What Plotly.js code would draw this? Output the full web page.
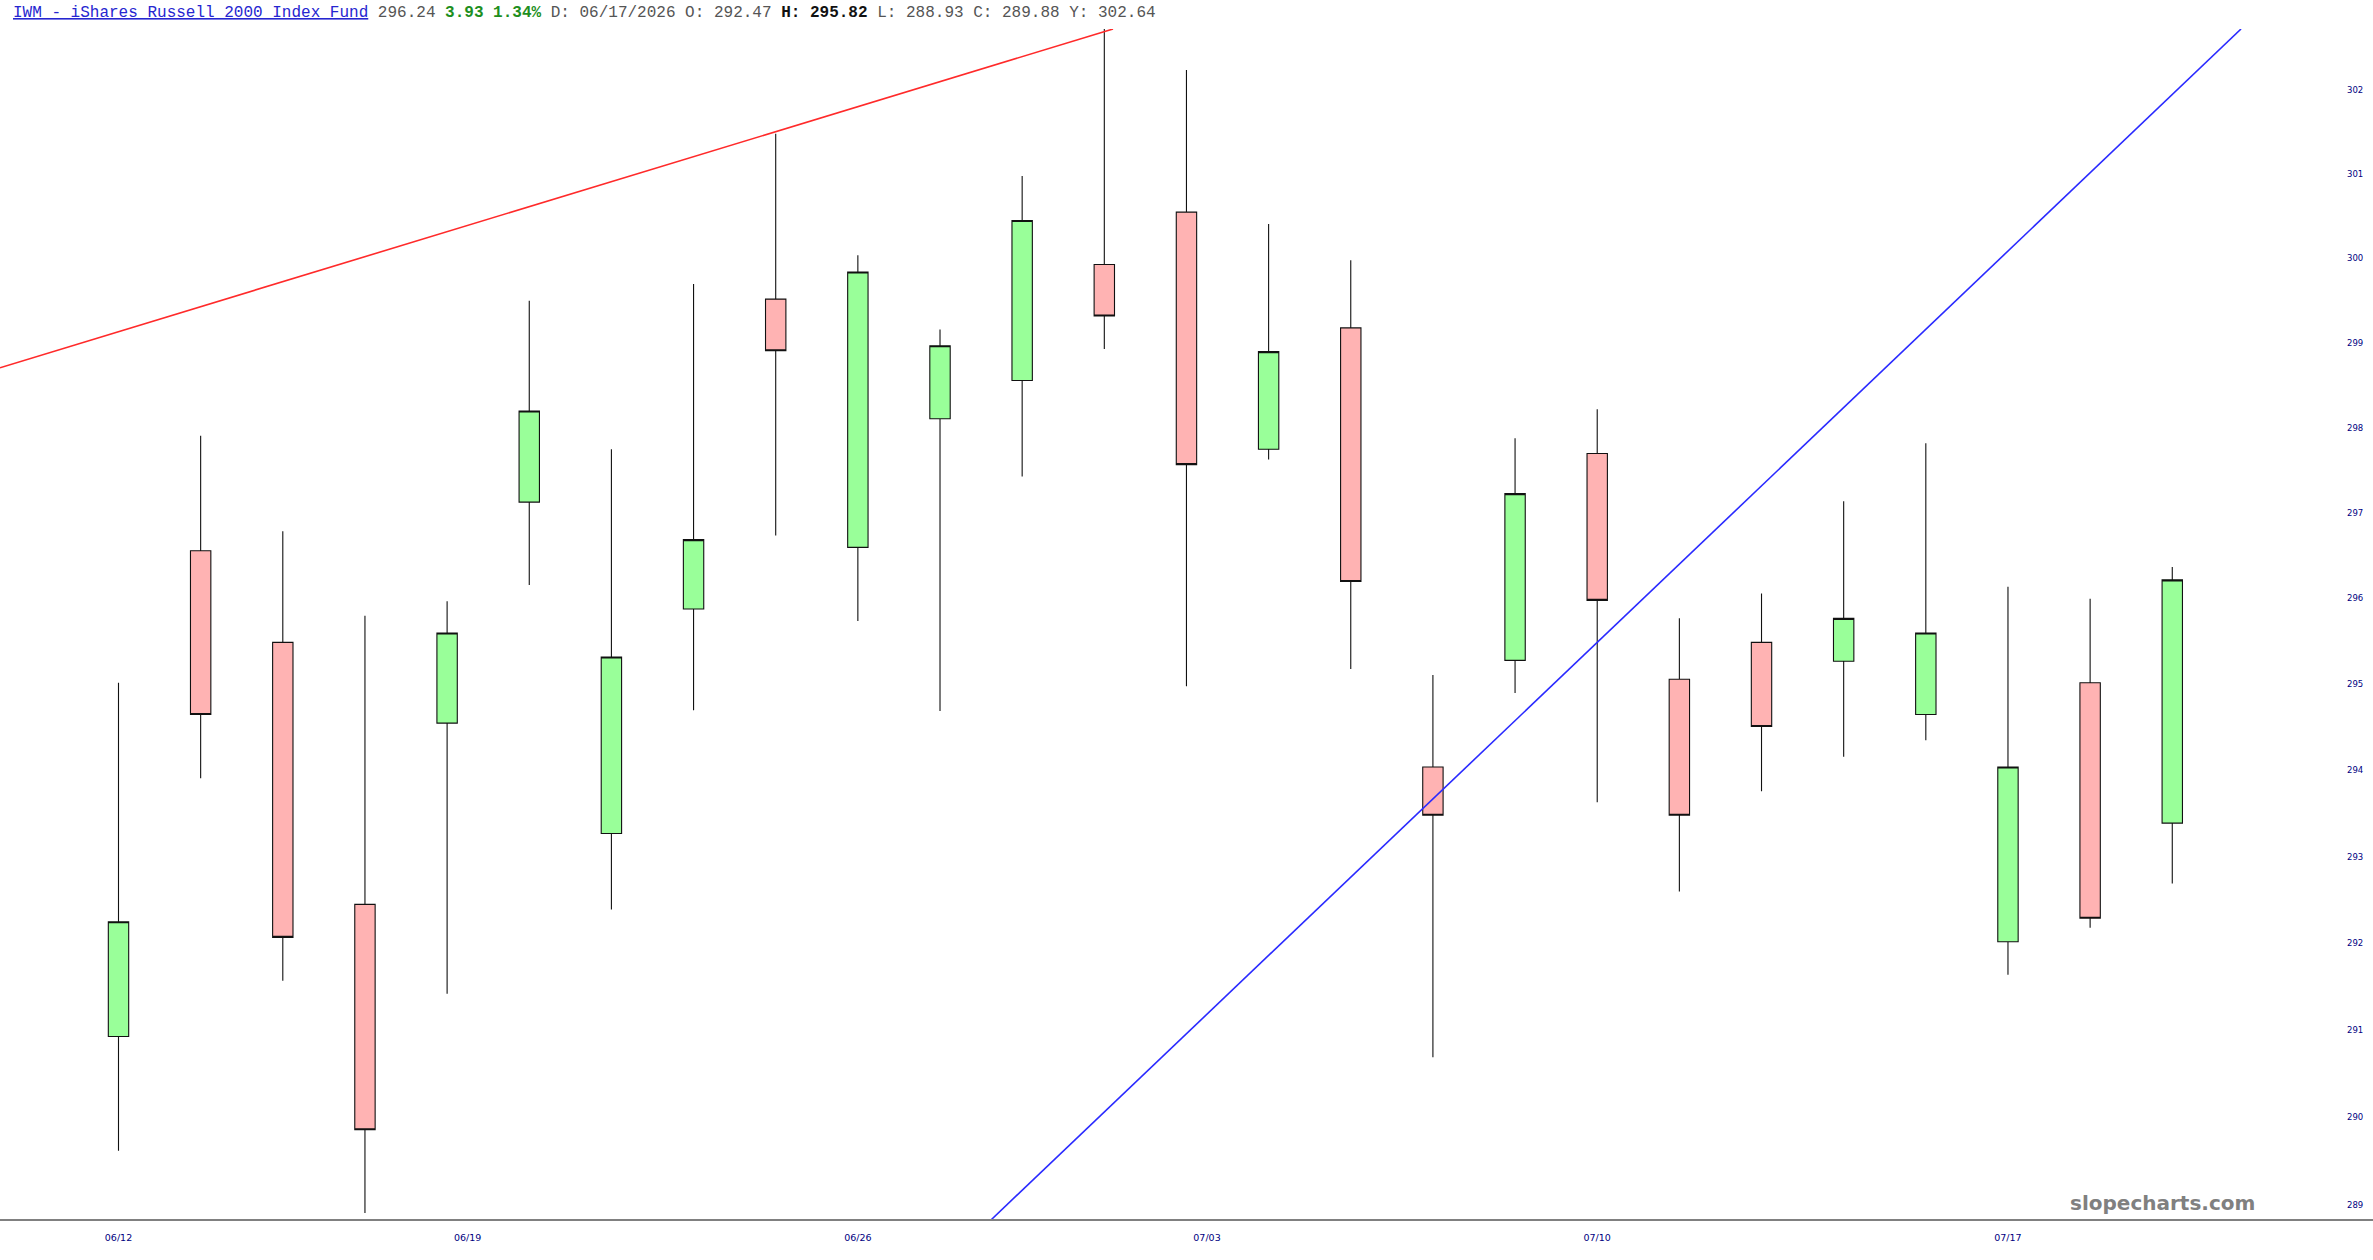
<!DOCTYPE html>
<html>
<head>
<meta charset="utf-8">
<script src="https://cdn.plot.ly/plotly-3.0.1.min.js"></script>
<style>
  html, body { margin: 0; padding: 0; background: #ffffff; }
  #chart { width: 2373px; height: 1260px; }
</style>
</head>
<body>
<div id="chart"></div>
<script>
// ---- data ----
const dates = ["06/12","06/15","06/16","06/17","06/18","06/22","06/23","06/24","06/25","06/26",
               "06/29","06/30","07/01","07/02","07/06","07/07","07/08","07/09","07/10",
               "07/13","07/14","07/15","07/16","07/17","07/20","07/21"];
const openV  = [290.95,296.58,295.51,292.47,294.57,297.15,293.29,295.90,299.54,296.62,
                298.13,298.58,299.95,300.57,297.77,299.20,294.06,295.30,297.72,
                295.08,295.51,295.29,294.67,292.04,295.04,293.41];
const highV  = [295.04,297.93,296.81,295.82,295.99,299.52,297.77,299.72,301.50,300.06,
                299.18,301.00,302.75,302.26,300.43,300.00,295.13,297.90,298.24,
                295.79,296.08,297.16,297.84,296.16,296.02,296.39];
const lowV   = [289.64,293.93,291.59,288.93,291.44,296.18,292.41,294.72,296.76,295.76,
                294.71,297.45,298.95,295.00,297.65,295.20,290.71,294.92,293.65,
                292.62,293.78,294.18,294.37,291.66,292.20,292.71];
const closeV = [292.27,294.67,292.09,289.88,295.62,298.22,295.34,296.71,298.93,299.86,
                298.99,300.47,299.34,297.59,298.92,296.22,293.50,297.25,296.00,
                293.50,294.53,295.79,295.62,294.06,292.31,296.24];

// x tick labels (weekly) and their slot positions on the bar axis
const xTickText = ["06/12","06/19","06/26","07/03","07/10","07/17"];
const xTickPos  = [0, 4.25, 9, 13.25, 18, 23];

// y tick labels
const yTicks = [289,290,291,292,293,294,295,296,297,298,299,300,301,302];

// trend lines (bar-slot, price)
const redLineX  = [-1.4425, 12.106];
const redLineY  = [298.73, 302.75];
const blueLineX = [10.62, 25.837];
const blueLineY = [288.85, 302.75];

const yMin = 288.85, yMax = 302.75;
const xMin = -1.4425, xMax = 26.92;

// ---- chart ----
const idx = dates.map((d, i) => i);

const candles = {
  type: 'candlestick',
  x: idx,
  open: openV, high: highV, low: lowV, close: closeV,
  text: dates,
  increasing: { line: { color: '#111111', width: 1.1 }, fillcolor: '#99FF99' },
  decreasing: { line: { color: '#111111', width: 1.1 }, fillcolor: '#FFB3B3' },
  whiskerwidth: 0,
  hoverinfo: 'skip',
  showlegend: false
};

const redLine = {
  type: 'scatter', mode: 'lines', x: redLineX, y: redLineY,
  line: { color: '#FF2A2A', width: 1.6 }, hoverinfo: 'skip', showlegend: false
};
const blueLine = {
  type: 'scatter', mode: 'lines', x: blueLineX, y: blueLineY,
  line: { color: '#2A2AFF', width: 1.6 }, hoverinfo: 'skip', showlegend: false
};

const header =
  '<span style="color:#2626d0"><u>IWM - iShares Russell 2000 Index Fund</u></span>' +
  '<span style="color:#555555"> 296.24 </span>' +
  '<span style="color:#1e8f1e"><b>3.93 1.34%</b></span>' +
  '<span style="color:#555555"> D: 06/17/2026 O: 292.47 </span>' +
  '<span style="color:#111111"><b>H: 295.82</b></span>' +
  '<span style="color:#555555"> L: 288.93 C: 289.88 Y: 302.64</span>';

const layout = {
  width: 2373, height: 1260,
  margin: { l: 0, r: 43, t: 29, b: 40, pad: 0 },
  paper_bgcolor: '#ffffff', plot_bgcolor: '#ffffff',
  showlegend: false,
  boxgap: 0.752, boxgroupgap: 0,
  xaxis: {
    type: 'linear',
    range: [xMin, xMax],
    rangeslider: { visible: false },
    showgrid: false, zeroline: false, showline: false, ticks: '',
    tickmode: 'array', tickvals: xTickPos, ticktext: xTickText,
    tickfont: { family: 'DejaVu Sans', size: 9.5, color: '#00007f' },
    ticklabelstandoff: 10,
    fixedrange: true
  },
  yaxis: {
    type: 'log',
    range: [Math.log10(yMin), Math.log10(yMax)],
    side: 'right',
    showgrid: false, zeroline: false, showline: false, ticks: '',
    tickmode: 'array', tickvals: yTicks, ticktext: yTicks.map(String),
    tickfont: { family: 'DejaVu Sans', size: 8.5, color: '#00007f' },
    ticklabelstandoff: 16,
    ticklabelshift: -2,
    fixedrange: true
  },
  shapes: [
    { type: 'line', xref: 'paper', yref: 'paper', x0: 0, x1: 2373 / 2330, y0: 0, y1: 0,
      line: { color: '#808080', width: 2 } }
  ],
  annotations: [
    { xref: 'paper', yref: 'paper', x: 10.6 / 2330, y: 1 + 16.3 / 1191, xanchor: 'left', yanchor: 'middle',
      showarrow: false, text: header,
      font: { family: 'Liberation Mono', size: 16, color: '#555555' } },
    { xref: 'paper', yref: 'paper', x: 2162 / 2330, y: 17 / 1191, xanchor: 'center', yanchor: 'middle',
      showarrow: false, text: '<b>slopecharts.com</b>',
      font: { family: 'DejaVu Sans', size: 20, color: '#808080' } }
  ]
};

Plotly.newPlot('chart', [candles, redLine, blueLine], layout, { displayModeBar: false, staticPlot: true });
</script>
</body>
</html>
